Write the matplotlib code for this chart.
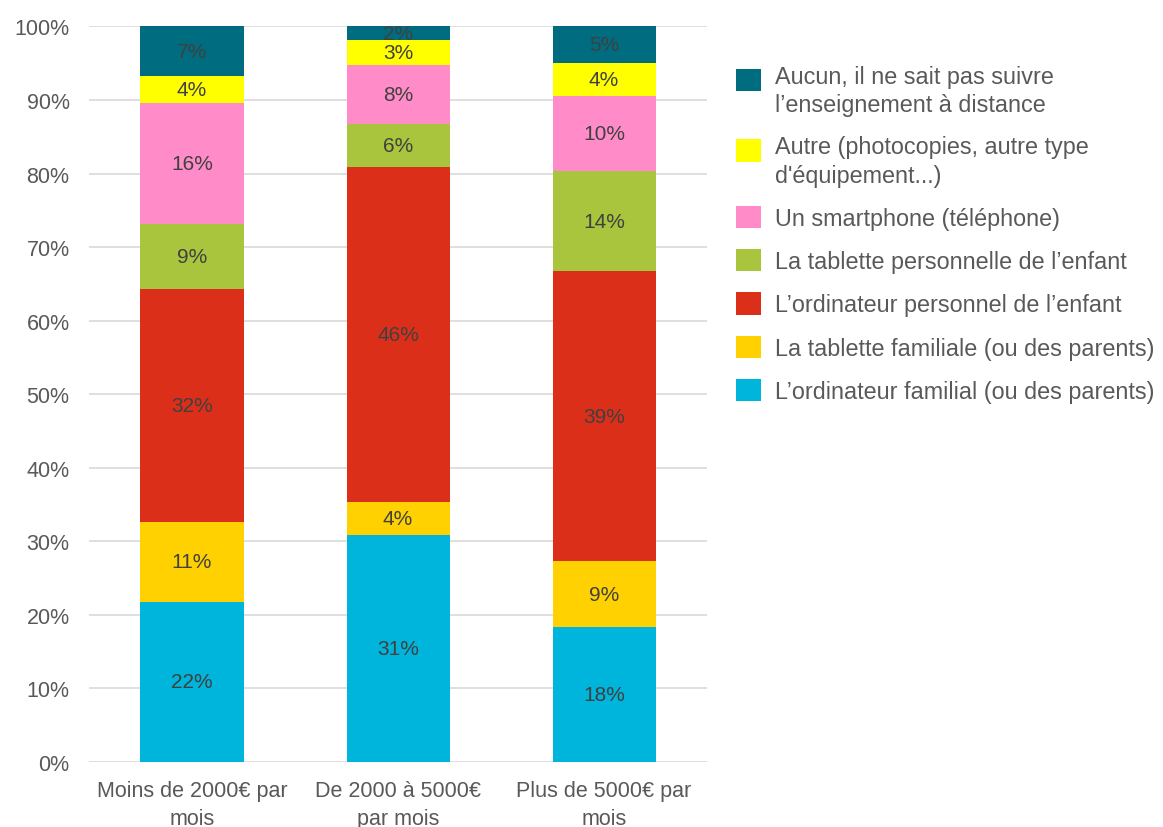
import numpy as np
import matplotlib.pyplot as plt
from matplotlib.patches import Patch, Rectangle
from matplotlib.legend_handler import HandlerPatch

plt.rcParams['font.family'] = ['Liberation Sans', 'DejaVu Sans']

# categories (revenu du foyer)
categories = ['Moins de 2000€ par\nmois', 'De 2000 à 5000€\npar mois', 'Plus de 5000€ par\nmois']

# séries, du bas vers le haut
series = [
    "L’ordinateur familial (ou des parents)",
    "La tablette familiale (ou des parents)",
    "L’ordinateur personnel de l’enfant",
    "La tablette personnelle de l’enfant",
    "Un smartphone (téléphone)",
    "Autre (photocopies, autre type\nd'équipement...)",
    "Aucun, il ne sait pas suivre\nl’enseignement à distance",
]
ordi_familial = [21.8, 30.9, 18.3]
tablette_familiale = [10.8, 4.4, 9.0]
ordi_enfant = [31.7, 45.6, 39.4]
tablette_enfant = [8.9, 5.8, 13.7]
smartphone = [16.4, 8.1, 10.2]
autre = [3.7, 3.3, 4.4]
aucun = [6.7, 1.9, 5.0]
values = [ordi_familial, tablette_familiale, ordi_enfant, tablette_enfant,
          smartphone, autre, aucun]
colors = ['#00B5DB', '#FFD100', '#DC2F1A', '#A9C53D', '#FF8CC8', '#FFFF00', '#006C80']

fig = plt.figure(figsize=(11.63, 8.28), dpi=100)
ax = fig.add_axes([0.0765, 0.0785, 0.5315, 0.8883])

x = np.arange(len(categories))
bottom = np.zeros(len(categories))
for vals, col in zip(values, colors):
    vals = np.array(vals)
    ax.bar(x, vals, 0.5, bottom=bottom, color=col, zorder=3)
    for xi, b, v in zip(x, bottom, vals):
        ax.text(xi, b + v / 2, f'{round(v):.0f}%', ha='center', va='center',
                fontsize=15, color='#404040', zorder=4)
    bottom += vals

ax.set_xlim(-0.5, 2.5)
ax.set_ylim(0, 100)
ax.set_yticks(np.arange(0, 101, 10))
ax.set_yticklabels([f'{t}%' for t in range(0, 101, 10)])
ax.set_xticks(x)
ax.set_xticklabels(categories, linespacing=1.45)
ax.tick_params(length=0, labelsize=15.5, colors='#595959')
ax.tick_params(axis='x', pad=13)
ax.tick_params(axis='y', pad=14)
ax.yaxis.grid(True, color='#D9D9D9', lw=1.2, zorder=0)
for s in ax.spines.values():
    s.set_visible(False)


# le carré de légende s'aligne sur la première ligne du texte
def top_square(legend, orig_handle, xdescent, ydescent, width, height, fontsize):
    dy = 0.5 * fontsize if '\n' in orig_handle.get_label() else 0
    return Rectangle((-xdescent, -ydescent + dy), width, height)


handles = [Patch(facecolor=c, label=s) for c, s in zip(colors, series)][::-1]
leg = fig.legend(handles=handles, loc='upper left', bbox_to_anchor=(0.6144, 0.946),
                 frameon=False, fontsize=16.8, handlelength=1.1, handleheight=1.1,
                 handletextpad=0.57, labelspacing=0.82, labelcolor='#595959',
                 handler_map={Patch: HandlerPatch(patch_func=top_square)})
for t in leg.get_texts():
    t.set_linespacing(1.3)

fig.savefig('out.png', dpi=100)
